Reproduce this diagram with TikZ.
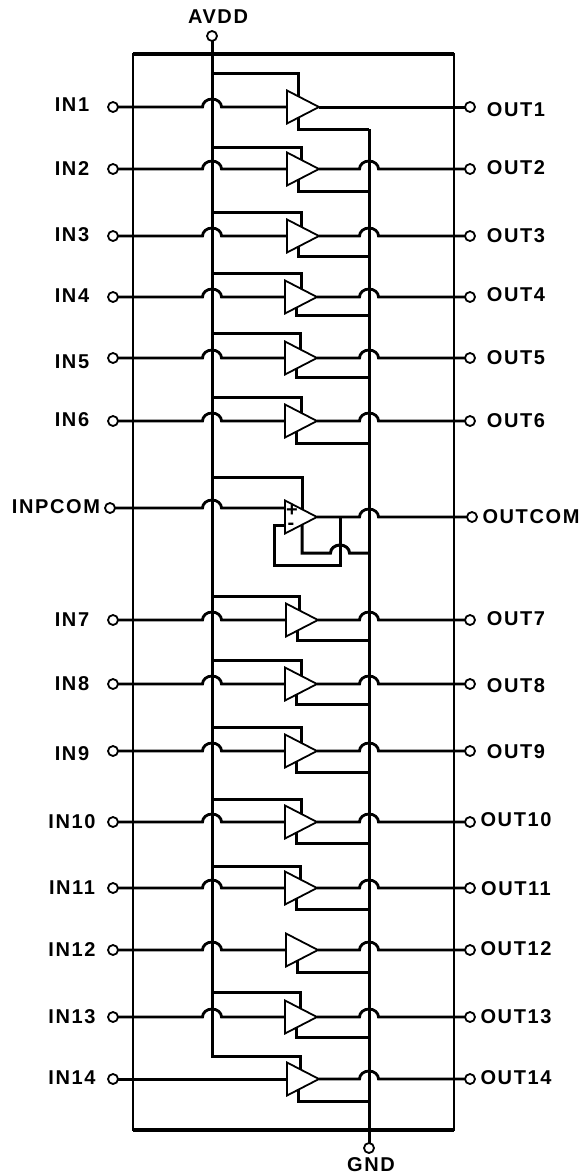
\documentclass[tikz,border=0pt]{standalone}
\usepackage{fontspec}
\setmainfont[LetterSpace=8]{Liberation Sans}
\usetikzlibrary{calc,shapes.geometric}
\begin{document}
\begin{tikzpicture}
	[x=1pt,y=-1pt,
	every node/.style={inner sep=0,outer sep=0},
	pin/.style={draw,circle,fill=white,line width=1.8pt,minimum size=10pt},
	pinname/.style={font=\fontsize{20}{20}\selectfont\bfseries},
	amp/.style={draw,fill=white,isosceles triangle,isosceles triangle stretches,line width=1.8pt,minimum height=32pt,minimum width=33pt,anchor=lower side},
	sign/.style={font=\fontsize{20}{20}\selectfont\bfseries},
	wire/.style={line width=2.8pt},
	rail/.style={line width=3pt},
	hop/.style={start angle=180,end angle=0,x radius=9.5pt,y radius=8pt}]
	\useasboundingbox (0,0) rectangle (580,1175);
	\node (chip) [draw,line width=2pt,minimum width=321pt,minimum height=1076pt] at (293.5,592) {};
	\draw [line width=4pt] (chip.north west) -- (chip.north east);
	\draw [line width=4pt] (chip.south west) -- (chip.south east);
	\node (avdd) [pin] at (212,36) {};
	\node (gnd) [pin] at (369,1148) {};
	\node (avddname) [pinname] at (218,17) {AVDD};
	\node (gndname) [pinname] at (371,1165) {GND};
	\coordinate (vddend) at (212,1056);
	\coordinate (gndtop) at (369,129);
	\draw [rail] (avdd) -- (vddend) -- (300,1056);
	\draw [rail] (gndtop) -- (gnd);
	\foreach \n/\y/\v/\vx/\g/\ax/\ly/\ry in {1/107/73/298/129/287/105/110,2/169/147/301/191/287/169/168,3/236/212/301/256/287/235/236,4/297/273/301/315/285/296/295,5/358/333/300/377/285/362/358,6/421/397/301/443/285/420/421,7/620/596/299/640/286/620/619,8/684/660/301/704/285/684/686,9/751/727/301/772/285/754/752,10/822/799/301/843/285/822/820,11/888/866/300/909/285/888/889,12/950/0/0/972/286/950/949,13/1017/992/300/1037/285/1017/1017,14/1079/1056/300/1101/287/1078/1078} {
		\ifnum\v>0
			\coordinate (vdd\n) at (212,\v);
			\coordinate (vin\n) at (\vx,\y-4);
			\draw [rail] (vdd\n) -| (vin\n);
		\fi
		\coordinate (gnd\n) at (369,\g);
		\coordinate (gin\n) at (\ax+11,\y+4);
		\draw [rail] (gnd\n) -| (gin\n);
		\coordinate (hl\n) at (212,\y);
		\coordinate (hr\n) at (369,\y);
		\node (amp\n) [amp] at (\ax,\y) {};
		\node (in\n) [pin] at (113,\y) {};
		\node (out\n) [pin] at (470,\y) {};
		\node (inname\n) [pinname] at (72,\ly) {IN\n};
		\node (outname\n) [pinname] at (516,\ry) {OUT\n};
	}
	\foreach \n in {2,3,4,5,6,7,8,9,10,11,12,13} {
		\draw [wire] (in\n) -- ($(hl\n)+(-9.5,0)$) arc [hop] -- (amp\n.lower side);
		\draw [wire] (amp\n.apex) -- ($(hr\n)+(-9.5,0)$) arc [hop] -- (out\n);
	}
	\draw [wire] (in1) -- ($(hl1)+(-9.5,0)$) arc [hop] -- (amp1.lower side);
	\draw [rail] (amp1.apex) -- (out1);
	\draw [rail] (in14) -- (amp14.lower side);
	\draw [wire] (amp14.apex) -- ($(hr14)+(-9.5,0)$) arc [hop] -- (out14);
	\coordinate (vddcom) at (212,477);
	\coordinate (vincom) at (302,512);
	\coordinate (hlcom) at (212,508);
	\coordinate (hrcom) at (369,517);
	\coordinate (ampin) at (285,508);
	\coordinate (gincom) at (302,520);
	\coordinate (gndcom) at (369,553);
	\coordinate (hopcom) at (340,553);
	\coordinate (fbtop) at (340,517);
	\coordinate (fbleft) at (274,565);
	\coordinate (fbin) at (285,525);
	\draw [rail] (vddcom) -| (vincom);
	\draw [rail] (gincom) |- ($(hopcom)+(-9.5,0)$) arc [hop] -- (gndcom);
	\draw [rail] (fbtop) |- (fbleft) |- (fbin);
	\node (ampcom) [amp] at (285,517) {};
	\node (plus) [sign] at (292,511) {+};
	\node (minus) [sign] at (291,526) {-};
	\node (inpcom) [pin] at (110,508) {};
	\node (outcom) [pin] at (472,517) {};
	\node (inpcomname) [pinname] at (56,507) {INPCOM};
	\node (outcomname) [pinname] at (531,517) {OUTCOM};
	\draw [wire] (inpcom) -- ($(hlcom)+(-9.5,0)$) arc [hop] -- (ampin);
	\draw [wire] (ampcom.apex) -- ($(hrcom)+(-9.5,0)$) arc [hop] -- (outcom);
\end{tikzpicture}
\end{document}
